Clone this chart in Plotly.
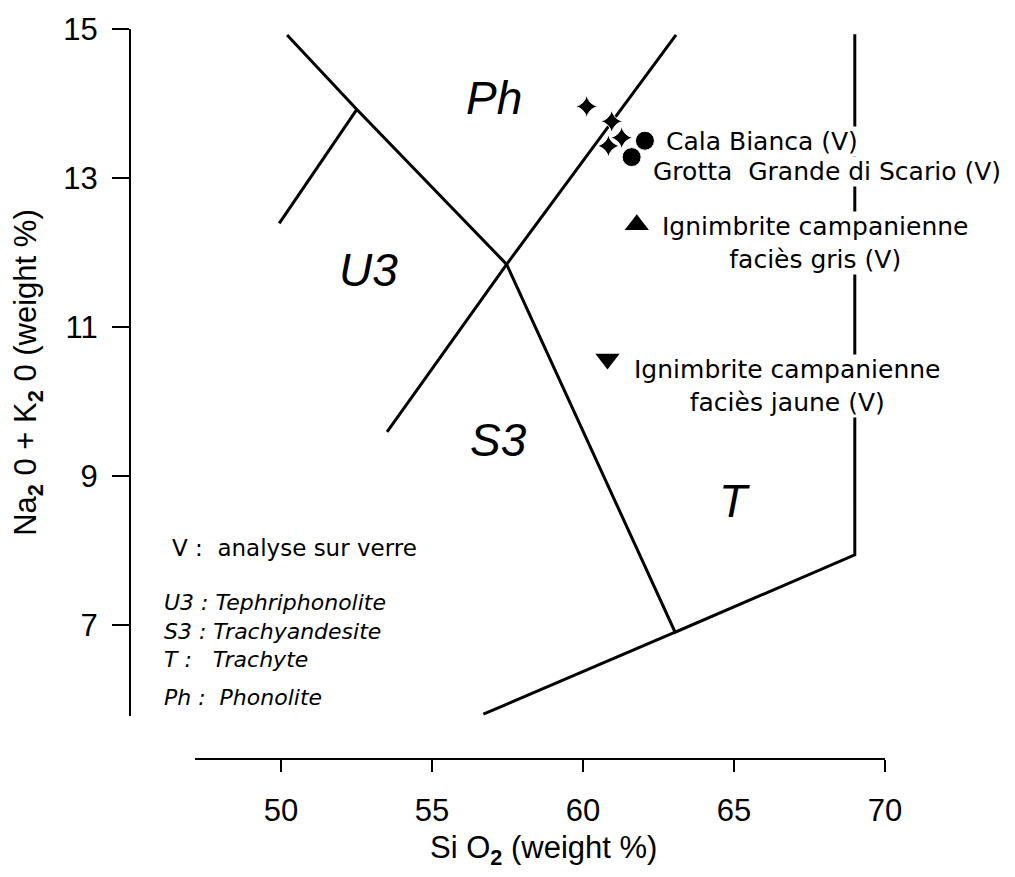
import plotly.graph_objects as go

# ---- data (SiO2 wt%, Na2O+K2O wt%) ----
# TAS field boundaries
main_x = [50.2, 52.51, 57.47, 63.05, 69.0, 69.0]
main_y = [14.92, 13.92, 11.84, 6.90, 7.94, 14.93]
base_x = [56.7, 63.05]
base_y = [5.8, 6.90]
u3_x = [49.94, 52.51]
u3_y = [12.39, 13.92]
ph_x = [53.51, 57.47, 63.08]
ph_y = [9.59, 11.84, 14.92]

# samples
star_x = [60.12, 60.95, 61.28, 60.84]
star_y = [13.96, 13.76, 13.54, 13.43]
circle_x = [62.05, 61.61]
circle_y = [13.50, 13.28]
tri_up_x = [61.78]
tri_up_y = [12.37]
tri_dn_x = [60.81]
tri_dn_y = [10.57]

x_ticks = [50, 55, 60, 65, 70]
y_ticks = [7, 9, 11, 13, 15]

W, H = 1015, 877
ML, MR, MT, MB = 100, 30, 18, 118
PW, PH = W - ML - MR, H - MT - MB

def px_x(p):
    return (p - ML) / PW

def px_y(p):
    return (H - MB - p) / PH

fig = go.Figure()
line_style = dict(color="black", width=3)
for xs, ys in [(main_x, main_y), (base_x, base_y), (u3_x, u3_y), (ph_x, ph_y)]:
    fig.add_trace(go.Scatter(x=xs, y=ys, mode="lines", line=line_style,
                             hoverinfo="skip", showlegend=False))

fig.add_trace(go.Scatter(x=star_x, y=star_y, mode="markers", showlegend=False,
                         marker=dict(symbol="star-diamond", size=16, color="black",
                                     line=dict(color="white", width=1))))
fig.add_trace(go.Scatter(x=circle_x, y=circle_y, mode="markers", showlegend=False,
                         marker=dict(symbol="circle", size=19, color="black",
                                     line=dict(color="white", width=1))))
fig.add_trace(go.Scatter(x=tri_up_x, y=tri_up_y, mode="markers", showlegend=False,
                         marker=dict(symbol="triangle-up", size=21, color="black")))
fig.add_trace(go.Scatter(x=tri_dn_x, y=tri_dn_y, mode="markers", showlegend=False,
                         marker=dict(symbol="triangle-down", size=21, color="black")))

lab_font = dict(family="DejaVu Sans", size=25, color="black")
ann = []
# sample labels (white background hides the vertical boundary)
ann.append(dict(x=62.72, y=13.49, text="Cala Bianca (V)", xanchor="left"))
ann.append(dict(x=62.28, y=13.08, text="Grotta&nbsp; Grande di Scario (V)", xanchor="left"))
ann.append(dict(x=67.68, y=12.13, text="Ignimbrite campanienne<br>faciès gris (V)",
                xanchor="center", align="center"))
ann.append(dict(x=66.77, y=10.21, text="Ignimbrite campanienne<br>faciès jaune (V)",
                xanchor="center", align="center"))
for a in ann:
    a.update(xref="x", yref="y", showarrow=False, font=lab_font,
             bgcolor="white", borderpad=0, yanchor="middle")

region_font = dict(family="Liberation Sans", size=46, color="black")
for t, x, y in [("<i>Ph</i>", 57.05, 14.07), ("<i>U3</i>", 52.9, 11.76),
                ("<i>S3</i>", 57.2, 9.48), ("<i>T</i>", 65.0, 8.66)]:
    ann.append(dict(x=x, y=y, xref="x", yref="y", text=t, showarrow=False,
                    font=region_font, xanchor="center", yanchor="middle"))

leg_font = dict(family="DejaVu Sans", size=23, color="black")
leg_font_i = dict(family="DejaVu Sans", size=22, color="black")
ann.append(dict(x=px_x(170), y=px_y(545), xref="paper", yref="paper",
                text="V :&nbsp; analyse sur verre", showarrow=False, font=leg_font,
                xanchor="left", yanchor="middle"))
for t, py in [("U3 : Tephriphonolite", 600), ("S3 : Trachyandesite", 630),
              ("T :&nbsp;&nbsp; Trachyte", 658), ("Ph :&nbsp; Phonolite", 697)]:
    ann.append(dict(x=px_x(162), y=px_y(py), xref="paper", yref="paper",
                    text="<i>" + t + "</i>", showarrow=False, font=leg_font_i,
                    xanchor="left", yanchor="middle"))

axis_font = dict(family="Liberation Sans", size=31, color="black")
ann.append(dict(x=px_x(543), y=px_y(851), xref="paper", yref="paper",
                text="Si O<sub><b>2</b></sub> (weight %)", showarrow=False,
                font=axis_font, xanchor="center", yanchor="middle"))
ann.append(dict(x=px_x(28), y=px_y(367), xref="paper", yref="paper",
                text="Na<sub><b>2</b></sub> 0 + K<sub><b>2</b></sub> 0 (weight %)",
                showarrow=False, font=axis_font, textangle=-90,
                xanchor="center", yanchor="middle"))

fig.update_layout(
    width=W, height=H,
    margin=dict(l=ML, r=MR, t=MT, b=MB),
    plot_bgcolor="white", paper_bgcolor="white",
    annotations=ann,
    xaxis=dict(range=[47.15, 70], domain=[px_x(195), px_x(885)],
               anchor="free", position=0,
               showline=True, linecolor="black", linewidth=2,
               ticks="outside", ticklen=12, tickwidth=2, tickcolor="black",
               ticklabelstandoff=12,
               tickvals=x_ticks, ticktext=[str(v) for v in x_ticks],
               tickfont=axis_font, showgrid=False, zeroline=False),
    yaxis=dict(range=[5.78, 15], domain=[px_y(715), 1],
               anchor="free", position=px_x(130),
               showline=True, linecolor="black", linewidth=2,
               ticks="outside", ticklen=17, tickwidth=2, tickcolor="black",
               ticklabelstandoff=8,
               tickvals=y_ticks, ticktext=[str(v) for v in y_ticks],
               tickfont=axis_font, showgrid=False, zeroline=False),
)

fig.write_html("out.html", config={"displayModeBar": False},
               post_script="document.body.style.margin='0px';")
